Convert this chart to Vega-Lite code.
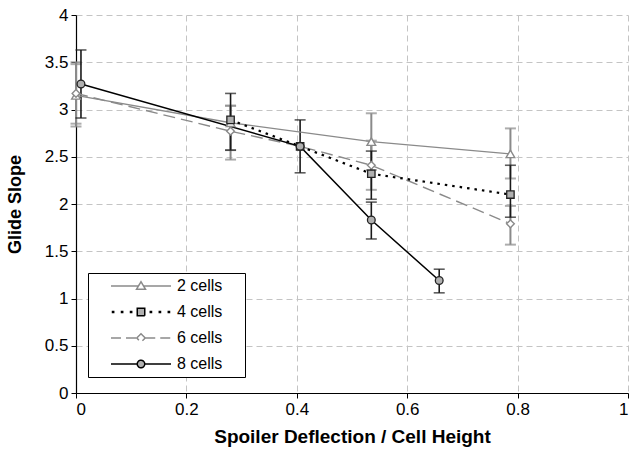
{
  "$schema": "https://vega.github.io/schema/vega-lite/v6.json",
  "autosize": "none",
  "width": 552,
  "height": 378,
  "padding": {"left": 76, "top": 15, "right": 2, "bottom": 63},
  "background": "white",
  "config": {
    "font": "Liberation Sans",
    "view": {"stroke": null},
    "axis": {
      "labelFontSize": 17, "titleFontSize": 18, "titleFontWeight": "bold",
      "labelColor": "black", "titleColor": "black", "domainColor": "black",
      "tickColor": "black", "tickSize": 5, "domainWidth": 1.2,
      "gridColor": "#c4c4c4", "gridDash": [6, 4], "gridWidth": 1
    }
  },
  "datasets": {
    "pts": [
      {"series": "2 cells", "x": 0.0, "y": 3.15, "lo": 2.82, "hi": 3.5},
      {"series": "2 cells", "x": 0.28, "y": 2.86, "lo": 2.57, "hi": 3.04},
      {"series": "2 cells", "x": 0.535, "y": 2.66, "lo": 2.36, "hi": 2.96},
      {"series": "2 cells", "x": 0.787, "y": 2.53, "lo": 2.27, "hi": 2.8},
      {"series": "4 cells", "x": 0.28, "y": 2.89, "lo": 2.57, "hi": 3.17},
      {"series": "4 cells", "x": 0.406, "y": 2.61, "lo": null, "hi": null},
      {"series": "4 cells", "x": 0.535, "y": 2.32, "lo": 2.05, "hi": 2.56},
      {"series": "4 cells", "x": 0.787, "y": 2.1, "lo": 1.86, "hi": 2.41},
      {"series": "6 cells", "x": 0.0, "y": 3.17, "lo": 2.85, "hi": 3.48},
      {"series": "6 cells", "x": 0.28, "y": 2.77, "lo": 2.47, "hi": 3.04},
      {"series": "6 cells", "x": 0.406, "y": 2.61, "lo": null, "hi": null},
      {"series": "6 cells", "x": 0.535, "y": 2.41, "lo": 2.15, "hi": 2.67},
      {"series": "6 cells", "x": 0.787, "y": 1.79, "lo": 1.57, "hi": 1.98},
      {"series": "8 cells", "x": 0.009, "y": 3.27, "lo": 2.91, "hi": 3.63},
      {"series": "8 cells", "x": 0.406, "y": 2.61, "lo": 2.33, "hi": 2.89},
      {"series": "8 cells", "x": 0.535, "y": 1.83, "lo": 1.63, "hi": 2.02},
      {"series": "8 cells", "x": 0.658, "y": 1.19, "lo": 1.06, "hi": 1.31}
    ]
  },
  "data": {"name": "pts"},
  "encoding": {
    "x": {"field": "x", "type": "quantitative",
      "scale": {"domain": [0, 1], "nice": false},
      "axis": {"title": "Spoiler Deflection / Cell Height", "titleFontSize": 19, "values": [0, 0.2, 0.4, 0.6, 0.8, 1], "format": "~g", "titlePadding": 10, "labelPadding": 3}},
    "y": {"field": "y", "type": "quantitative",
      "scale": {"domain": [0, 4], "nice": false},
      "axis": {"title": "Glide Slope", "values": [0, 0.5, 1, 1.5, 2, 2.5, 3, 3.5, 4], "format": "~g", "titlePadding": 20, "labelPadding": 3}}
  },
  "layer": [
    {"transform": [{"filter": "datum.lo != null && (datum.series == '2 cells' || datum.series == '6 cells')"}],
     "mark": {"type": "rule", "color": "#8a8a8a", "strokeWidth": 2},
     "encoding": {"y": {"field": "lo", "type": "quantitative"}, "y2": {"field": "hi"}}},
    {"transform": [{"filter": "datum.lo != null && (datum.series == '2 cells' || datum.series == '6 cells')"}],
     "mark": {"type": "tick", "orient": "horizontal", "color": "#8a8a8a", "size": 11, "thickness": 2},
     "encoding": {"y": {"field": "lo", "type": "quantitative"}}},
    {"transform": [{"filter": "datum.lo != null && (datum.series == '2 cells' || datum.series == '6 cells')"}],
     "mark": {"type": "tick", "orient": "horizontal", "color": "#8a8a8a", "size": 11, "thickness": 2},
     "encoding": {"y": {"field": "hi", "type": "quantitative"}}},
    {"transform": [{"filter": "datum.lo != null && (datum.series == '4 cells' || datum.series == '8 cells')"}],
     "mark": {"type": "rule", "color": "#1a1a1a", "strokeWidth": 1.6},
     "encoding": {"y": {"field": "lo", "type": "quantitative"}, "y2": {"field": "hi"}}},
    {"transform": [{"filter": "datum.lo != null && (datum.series == '4 cells' || datum.series == '8 cells')"}],
     "mark": {"type": "tick", "orient": "horizontal", "color": "#1a1a1a", "size": 11, "thickness": 1.6},
     "encoding": {"y": {"field": "lo", "type": "quantitative"}}},
    {"transform": [{"filter": "datum.lo != null && (datum.series == '4 cells' || datum.series == '8 cells')"}],
     "mark": {"type": "tick", "orient": "horizontal", "color": "#1a1a1a", "size": 11, "thickness": 1.6},
     "encoding": {"y": {"field": "hi", "type": "quantitative"}}},
    {"transform": [{"filter": "datum.series == '2 cells'"}],
     "mark": {"type": "line", "color": "#8a8a8a", "strokeWidth": 1.4}, "encoding": {}},
    {"transform": [{"filter": "datum.series == '6 cells'"}],
     "mark": {"type": "line", "color": "#8a8a8a", "strokeWidth": 1.4, "strokeDash": [12, 6]}, "encoding": {}},
    {"transform": [{"filter": "datum.series == '4 cells'"}],
     "mark": {"type": "line", "color": "black", "strokeWidth": 2.2, "strokeDash": [2.5, 5]}, "encoding": {}},
    {"transform": [{"filter": "datum.series == '8 cells'"}],
     "mark": {"type": "line", "color": "black", "strokeWidth": 1.5}, "encoding": {}},
    {"transform": [{"filter": "datum.series == '2 cells'"}],
     "mark": {"type": "point", "shape": "triangle-up", "size": 75, "filled": true, "fill": "white", "stroke": "#8a8a8a", "strokeWidth": 1.4, "opacity": 1}},
    {"transform": [{"filter": "datum.series == '6 cells'"}],
     "mark": {"type": "point", "shape": "diamond", "size": 60, "filled": true, "fill": "white", "stroke": "#8a8a8a", "strokeWidth": 1.4, "opacity": 1}},
    {"transform": [{"filter": "datum.series == '4 cells'"}],
     "mark": {"type": "point", "shape": "square", "size": 55, "filled": true, "fill": "#b0b0b0", "stroke": "#222222", "strokeWidth": 1.3, "opacity": 1}},
    {"transform": [{"filter": "datum.series == '8 cells'"}],
     "mark": {"type": "point", "shape": "circle", "size": 60, "filled": true, "fill": "#b0b0b0", "stroke": "#222222", "strokeWidth": 1.3, "opacity": 1}},
    {"transform": [{"filter": "false"}],
     "mark": {"type": "point", "filled": true, "opacity": 1, "strokeWidth": 1.4},
     "encoding": {
       "shape": {"field": "series", "type": "nominal",
         "scale": {"domain": ["2 cells", "4 cells", "6 cells", "8 cells"],
           "range": [
             "M-9.8,0M19.2,0M-6,0H-0.5M0.5,0H6M0,-0.85L0.9,0.65L-0.9,0.65Z",
             "M-9.8,0M19.2,0M-5.7,-0.12h0.24v0.24h-0.24ZM-3.9,-0.12h0.24v0.24h-0.24ZM-2.1,-0.12h0.24v0.24h-0.24ZM1.86,-0.12h0.24v0.24h-0.24ZM3.66,-0.12h0.24v0.24h-0.24ZM5.46,-0.12h0.24v0.24h-0.24ZM-0.75,-0.75H0.75V0.75H-0.75Z",
             "M-9.8,0M19.2,0M-6,0H-0.85M0.85,0H6M0,-0.85L0.85,0L0,0.85L-0.85,0Z",
             "M-9.8,0M19.2,0M-6,0H-0.75M0.75,0H6M-0.75,0A0.75,0.75,0,1,0,0.75,0A0.75,0.75,0,1,0,-0.75,0Z"
           ]},
         "legend": {"title": null, "orient": "none", "legendX": 12, "legendY": 258,
           "strokeColor": "black", "fillColor": "white", "padding": 5,
           "labelFontSize": 16, "labelColor": "black", "symbolSize": 100,
           "symbolOffset": 40, "labelOffset": 28, "rowPadding": 10}},
       "fill": {"field": "series", "type": "nominal",
         "scale": {"domain": ["2 cells", "4 cells", "6 cells", "8 cells"], "range": ["white", "#b0b0b0", "white", "#b0b0b0"]}},
       "stroke": {"field": "series", "type": "nominal",
         "scale": {"domain": ["2 cells", "4 cells", "6 cells", "8 cells"], "range": ["#8a8a8a", "black", "#8a8a8a", "black"]}},
       "strokeDash": {"field": "series", "type": "nominal",
         "scale": {"domain": ["2 cells", "4 cells", "6 cells", "8 cells"], "range": [[1, 0], [1, 0], [10, 5], [1, 0]]}}
     }}
  ]
}
